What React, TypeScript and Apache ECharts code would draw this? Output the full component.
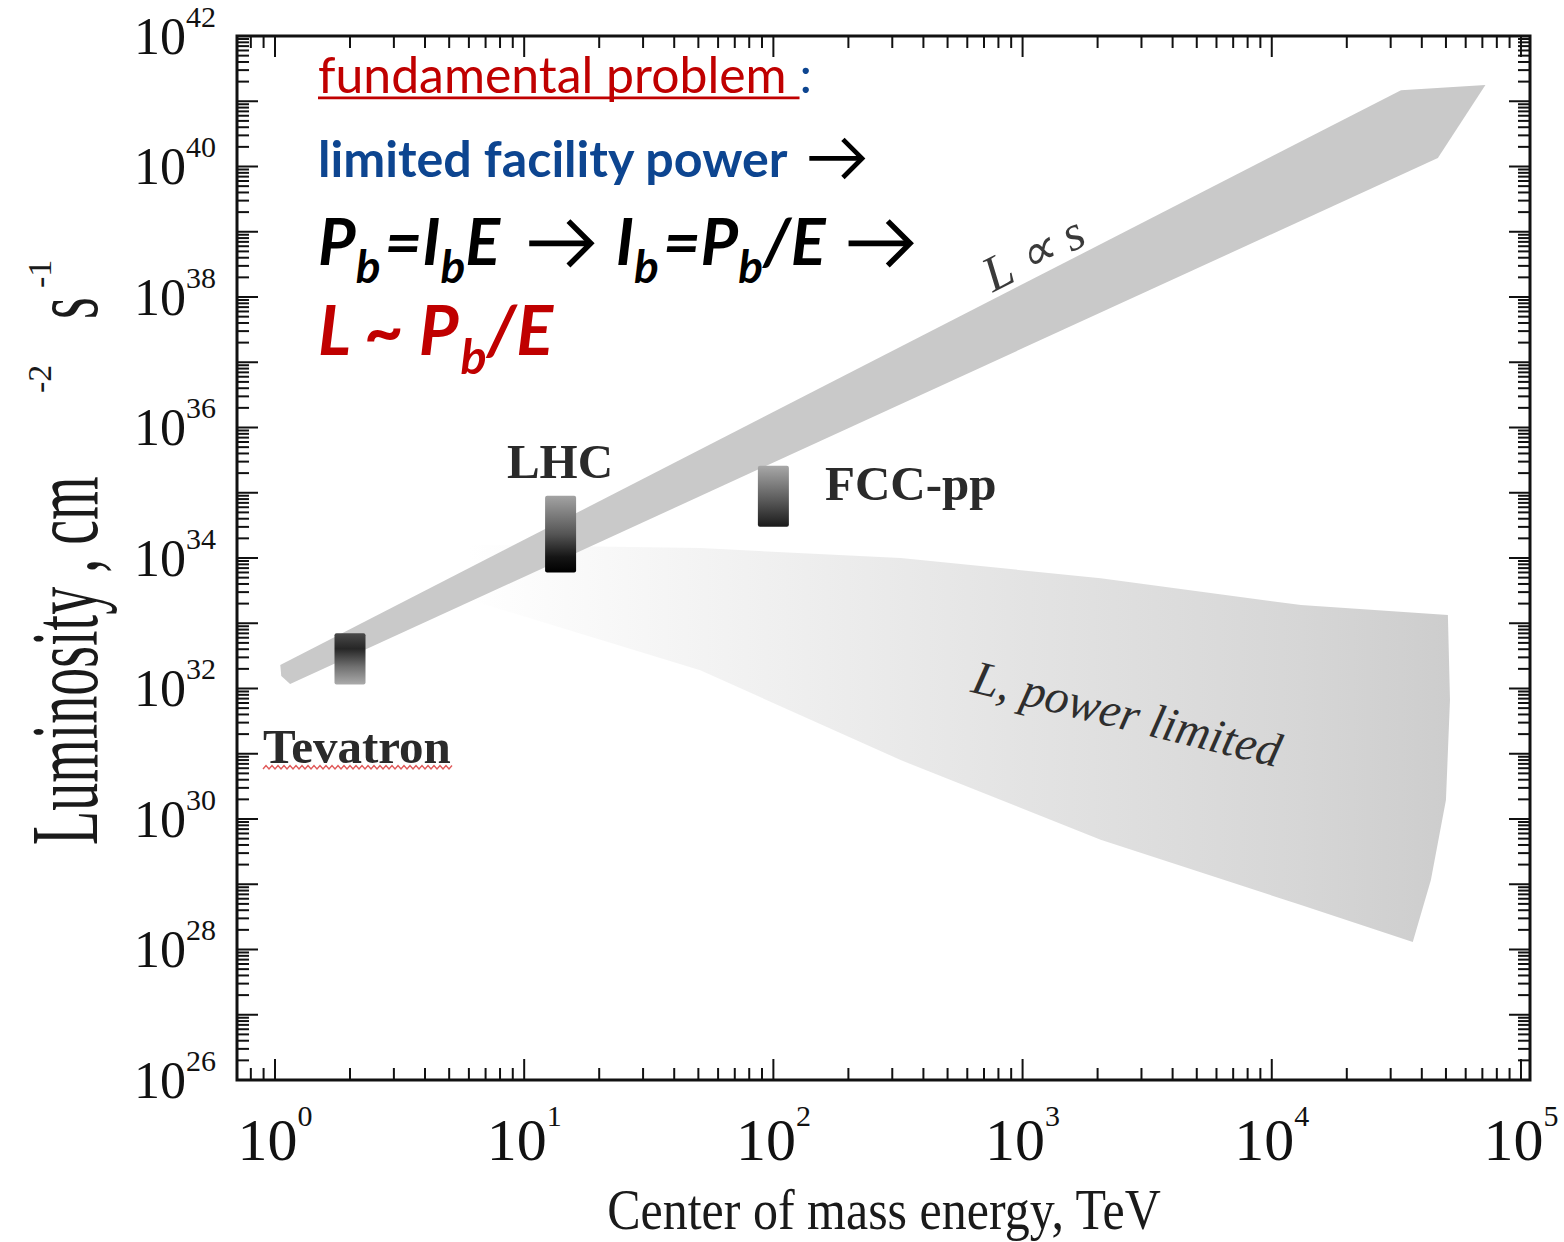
import React, { useEffect, useRef } from 'react';
import * as echarts from 'echarts';

// ---------------- axes ----------------
const X_MIN = 0.704;
const X_MAX = 108700;
const Y_MIN = 1e26;
const Y_MAX = 1.0002e42;
const X_MAJOR = [1, 10, 100, 1000, 10000, 100000];
const X_LABELS = [1, 10, 100, 1000, 10000, 100000];
const X_MINOR_EXTRA = [0.8, 0.9];
const MINOR_STEPS = [2, 3, 4, 5, 6, 7, 8, 9];
const Y_MAJOR_EXP = [26, 27, 28, 29, 30, 31, 32, 33, 34, 35, 36, 37, 38, 39, 40, 41, 42];
const Y_LABEL_EXP = [26, 28, 30, 32, 34, 36, 38, 40, 42];

// ---------------- shapes (E in TeV, L in cm^-2 s^-1) ----------------
const BAND_L_PROP_S: [number, number][] = [
  [1.06, 1.55e32], [1.05, 2.3e32], [33000, 1.48e41],
  [72000, 1.78e41], [46400, 1.35e40], [1.15, 1.17e32],
];
const FAN_POWER_LIMITED: [number, number][] = [
  [6.0, 1.6e34], [50.9, 1.42e34], [324, 1.0e34], [2057, 4.9e33], [13100, 1.9e33], [50900, 1.34e33],
  [51900, 6.7e31], [50000, 1.95e30], [43500, 1.16e29], [36800, 1.3e28],
  [13100, 4.8e28], [2057, 4.8e29], [324, 8.0e30], [50.9, 1.9e32], [6.0, 2.3e33],
];

// ---------------- machines ----------------
const MACHINES = ['Tevatron', 'LHC', 'FCC-pp'];
const MACHINE_E = [2, 14, 100];
const MACHINE_L_LOW = [1.15e32, 6e33, 3e34];
const MACHINE_L_HIGH = [7e32, 9e34, 2.6e35];
const MACHINE_GRAD = [
  [[0, '#4a4a4a'], [0.3, '#262626'], [0.65, '#707070'], [1, '#ababab']],
  [[0, '#a3a3a3'], [0.5, '#555555'], [0.8, '#151515'], [1, '#000000']],
  [[0, '#a8a8a8'], [0.6, '#555555'], [1, '#1a1a1a']],
];

const RED = '#c00000';
const BLUE = '#0d4590';
const SERIF = "'Liberation Serif', 'Times New Roman', serif";
const SANS = "Lato, 'Open Sans', sans-serif";

// derived tick lists
const X_MINOR = [...X_MINOR_EXTRA, ...X_MAJOR.slice(0, -1).flatMap((d) => MINOR_STEPS.map((m) => m * d))];
const Y_MAJOR = Y_MAJOR_EXP.map((e) => Math.pow(10, e));
const Y_MINOR = Y_MAJOR_EXP.slice(0, -1).flatMap((e) => MINOR_STEPS.map((m) => m * Math.pow(10, e)));
const Y_LABELS = Y_LABEL_EXP.map((e) => Math.pow(10, e));

// ---------------- text helpers ----------------
let _ctx: any = null;
function measure(text: string, font: string) {
  if (!_ctx) _ctx = document.createElement('canvas').getContext('2d');
  _ctx.font = font;
  const m = _ctx.measureText(text);
  const px = parseFloat(font.match(/(\d+(\.\d+)?)px/)![1]);
  const asc = m.fontBoundingBoxAscent ?? 0.9 * px;
  const desc = m.fontBoundingBoxDescent ?? 0.2 * px;
  return { w: m.width, central: (asc - desc) / 2 };
}

type Frag = {
  t?: string; size: number; weight?: string; style?: string; color: string;
  dy?: number; family?: string; arrow?: boolean; pre?: number; underline?: boolean;
};

function buildLine(x0: number, baseline: number, frags: Frag[], family: string, target?: number) {
  const fontOf = (f: Frag, s: number) => `${f.style || 'normal'} ${f.weight || 'normal'} ${s}px ${f.family || family}`;
  const adv = frags.map((f) => (f.arrow ? f.size * 1.05 : measure(f.t!, fontOf(f, f.size)).w));
  const pre = frags.map((f) => f.pre || 0);
  const total = adv.reduce((a, b) => a + b, 0) + pre.reduce((a, b) => a + b, 0);
  const k = target ? target / total : 1;
  const els: any[] = [];
  let x = x0;
  frags.forEach((f, i) => {
    x += pre[i] * k;
    const s = f.size * k;
    const by = baseline + (f.dy || 0) * k;
    const w = adv[i] * k;
    if (f.arrow) {
      const cy = by - 0.37 * s;
      const h = 0.38 * s;
      const lw = 0.095 * s;
      els.push({ type: 'polyline', shape: { points: [[x, cy], [x + w - lw * 0.6, cy]] }, style: { stroke: f.color, lineWidth: lw } });
      els.push({ type: 'polyline', shape: { points: [[x + w - h, cy - h], [x + w, cy], [x + w - h, cy + h]] }, style: { stroke: f.color, lineWidth: lw, lineJoin: 'miter' } });
    } else {
      const font = fontOf(f, s);
      const m = measure(f.t!, font);
      els.push({
        type: 'text', x, y: by - m.central, z: 100,
        style: { text: f.t, font, fill: f.color, align: 'left', verticalAlign: 'middle', textAlign: 'left', textVerticalAlign: 'middle' },
      });
      if (f.underline) {
        els.push({ type: 'line', shape: { x1: x, y1: by + 0.1 * s, x2: x + w, y2: by + 0.1 * s }, style: { stroke: f.color, lineWidth: 0.055 * s } });
      }
    }
    x += w;
  });
  return els;
}

function plainText(text: string, x: number, baseline: number, font: string, color: string, opts: any = {}) {
  const m = measure(text, font);
  const sy = opts.scaleY || 1;
  return {
    type: 'text', x, y: baseline - m.central * sy, rotation: opts.rotation || 0, scaleY: sy, z: 100,
    style: {
      text, font, fill: color,
      align: opts.align || 'left', textAlign: opts.align || 'left',
      verticalAlign: 'middle', textVerticalAlign: 'middle',
    },
  };
}

function txt(text: string, x: number, y: number, font: string) {
  return { type: 'text', x, y, style: { text, font, fill: '#1a1a1a', align: 'left', verticalAlign: 'middle', textAlign: 'left', textVerticalAlign: 'middle' } };
}

function buildGraphics() {
  const els: any[] = [];
  // annotation lines (top-left)
  els.push(...buildLine(318, 93, [
    { t: 'fundamental problem ', size: 54, color: RED, underline: true },
    { t: ':', size: 54, color: BLUE },
  ], SANS, 494));
  els.push(...buildLine(318, 177, [
    { t: 'limited facility power', size: 54, weight: 'bold', color: BLUE },
    { arrow: true, size: 54, color: '#000', pre: 22 },
  ], SANS, 544));
  const bi = { weight: 'bold', style: 'italic', color: '#000' };
  els.push(...buildLine(318, 265, [
    { t: 'P', size: 62, ...bi },
    { t: 'b', size: 44, dy: 17, ...bi },
    { t: '=I', size: 62, pre: 4, ...bi },
    { t: 'b', size: 44, dy: 17, ...bi },
    { t: 'E', size: 62, ...bi },
    { arrow: true, size: 56, color: '#000', pre: 28 },
    { t: 'I', size: 62, pre: 24, ...bi },
    { t: 'b', size: 44, dy: 17, ...bi },
    { t: '=P', size: 62, pre: 4, ...bi },
    { t: 'b', size: 44, dy: 17, ...bi },
    { t: '/E', size: 62, ...bi },
    { arrow: true, size: 56, color: '#000', pre: 22 },
  ], SANS, 592));
  const rbi = { weight: 'bold', style: 'italic', color: RED };
  els.push(...buildLine(318, 355, [
    { t: 'L ~ P', size: 62, ...rbi },
    { t: 'b', size: 44, dy: 17, ...rbi },
    { t: '/E', size: 62, ...rbi },
  ], SANS, 235));

  // machine labels
  els.push(plainText('Tevatron', 263, 763, `bold 49px ${SERIF}`, '#2a2a2a'));
  const squiggle: number[][] = [];
  for (let x = 263, i = 0; x <= 453; x += 3, i++) squiggle.push([x, i % 2 ? 765.5 : 769]);
  els.push({ type: 'polyline', shape: { points: squiggle }, style: { stroke: '#e05a5a', lineWidth: 1.4 }, z: 99 });
  els.push(plainText('LHC', 560, 478, `bold 49px ${SERIF}`, '#2a2a2a', { align: 'center' }));
  els.push(plainText('FCC-pp', 825, 500, `bold 49px ${SERIF}`, '#2a2a2a'));

  // region labels
  els.push(plainText('L \u221D s', 1033, 270, `italic 50px ${SERIF}`, '#3a3a3a', { align: 'center', rotation: (27 * Math.PI) / 180 }));
  els.push(plainText('L, power limited', 1127, 730, `italic 48px ${SERIF}`, '#2e2e2e', { align: 'center', rotation: (-13.8 * Math.PI) / 180 }));

  // x axis title
  els.push(plainText('Center of mass energy, TeV', 884, 1229, `50px ${SERIF}`, '#1a1a1a', { align: 'center', scaleY: 1.12 }));

  // y axis title (rotated groups)
  const mainFont = `56px ${SERIF}`;
  const supFont = `34px ${SERIF}`;
  const mMain = measure('x', mainFont).central;
  els.push({
    type: 'group', x: 97, y: 845, rotation: Math.PI / 2, scaleY: 1.7, z: 100,
    children: [
      txt('Luminosity , cm', 0, -mMain, mainFont),
      txt('s', 526, -mMain, mainFont),
    ],
  });
  els.push({
    type: 'group', x: 97, y: 845, rotation: Math.PI / 2, z: 100,
    children: [
      txt('-2', 452, -58, supFont),
      txt('-1', 557, -58, supFont),
    ],
  });
  return els;
}

function polygonSeries(name: string, points: [number, number][], fill: any, z: number) {
  return {
    type: 'custom', name, z, silent: true, coordinateSystem: 'cartesian2d',
    data: points,
    renderItem: (params: any, api: any) => {
      if (params.dataIndex !== 0) return null;
      const pts = points.map((p) => api.coord(p));
      return { type: 'polygon', shape: { points: pts }, style: { fill } };
    },
  };
}

function tickSeries(axis: 'x' | 'y', values: number[], len: number) {
  const data = axis === 'x' ? values.map((v) => [v, Y_MIN]) : values.map((v) => [X_MIN, v]);
  return {
    type: 'custom', z: 20, silent: true, coordinateSystem: 'cartesian2d',
    data,
    renderItem: (params: any, api: any) => {
      const st = { stroke: '#111', lineWidth: 2 };
      if (axis === 'x') {
        const v = api.value(0);
        const b = api.coord([v, Y_MIN]);
        const t = api.coord([v, Y_MAX]);
        return {
          type: 'group', children: [
            { type: 'line', shape: { x1: b[0], y1: b[1], x2: b[0], y2: b[1] - len }, style: st },
            { type: 'line', shape: { x1: t[0], y1: t[1], x2: t[0], y2: t[1] + len }, style: st },
          ],
        };
      }
      const v = api.value(1);
      const l = api.coord([X_MIN, v]);
      const r = api.coord([X_MAX, v]);
      return {
        type: 'group', children: [
          { type: 'line', shape: { x1: l[0], y1: l[1], x2: l[0] + len, y2: l[1] }, style: st },
          { type: 'line', shape: { x1: r[0], y1: r[1], x2: r[0] - len, y2: r[1] }, style: st },
        ],
      };
    },
  };
}

function machineSeries() {
  return {
    type: 'custom', name: 'machines', z: 10, silent: true, coordinateSystem: 'cartesian2d',
    data: MACHINES.map((n, i) => [MACHINE_E[i], MACHINE_L_LOW[i], MACHINE_L_HIGH[i]]),
    encode: { x: 0, y: [1, 2] },
    renderItem: (params: any, api: any) => {
      const e = api.value(0);
      const lo = api.coord([e, api.value(1)]);
      const hi = api.coord([e, api.value(2)]);
      const w = 31;
      const grad = MACHINE_GRAD[params.dataIndex].map(([o, c]: any) => ({ offset: o, color: c }));
      return {
        type: 'rect',
        shape: { x: hi[0] - w / 2, y: hi[1], width: w, height: lo[1] - hi[1], r: 2 },
        style: { fill: new echarts.graphic.LinearGradient(0, 0, 0, 1, grad) },
      };
    },
  };
}

function buildOption() {
  const labelRich = (main: number, mainLH: number, sup: number, supLH: number) => ({
    b: { fontFamily: SERIF, fontSize: main, lineHeight: mainLH, color: '#111' },
    s: { fontFamily: SERIF, fontSize: sup, lineHeight: supLH, verticalAlign: 'top', color: '#111' },
  });
  const fmt = (v: number) => `{b|10}{s|${Math.round(Math.log10(v))}}`;
  return {
    animation: false,
    backgroundColor: '#ffffff',
    grid: { left: 237, top: 36, width: 1293, height: 1044, show: true, borderColor: '#111', borderWidth: 3, backgroundColor: 'transparent' },
    xAxis: {
      type: 'log', logBase: 10, min: X_MIN, max: X_MAX,
      axisLine: { show: false }, axisTick: { show: false }, splitLine: { show: false },
      axisLabel: { customValues: X_LABELS, formatter: fmt, margin: 20, showMinLabel: true, showMaxLabel: true, rich: labelRich(60, 80, 30, 30) },
    },
    yAxis: {
      type: 'log', logBase: 10, min: Y_MIN, max: Y_MAX,
      axisLine: { show: false }, axisTick: { show: false }, splitLine: { show: false },
      axisLabel: { customValues: Y_LABELS, formatter: fmt, margin: 21, showMinLabel: true, showMaxLabel: true, rich: labelRich(52, 70, 30, 34) },
    },
    series: [
      polygonSeries('L, power limited', FAN_POWER_LIMITED,
        new echarts.graphic.LinearGradient(0, 0, 1, 0, [
          { offset: 0, color: '#ffffff' }, { offset: 0.2, color: '#f5f5f5' },
          { offset: 0.55, color: '#e4e4e4' }, { offset: 0.85, color: '#d6d6d6' }, { offset: 1, color: '#cdcdcd' },
        ]), 2),
      polygonSeries('L \u221D s', BAND_L_PROP_S, '#c9c9c9', 3),
      machineSeries(),
      tickSeries('x', X_MAJOR, 21),
      tickSeries('x', X_MINOR, 12),
      tickSeries('y', Y_MAJOR, 21),
      tickSeries('y', Y_MINOR, 12),
    ],
    graphic: { elements: buildGraphics() },
  };
}

export default function App() {
  const ref = useRef<HTMLDivElement>(null);
  useEffect(() => {
    const chart = echarts.init(ref.current!, null, { renderer: 'svg' });
    chart.setOption(buildOption() as any);
    return () => chart.dispose();
  }, []);
  return <div ref={ref} style={{ position: 'fixed', left: 0, top: 0, width: 1564, height: 1242, background: '#fff' }} />;
}
